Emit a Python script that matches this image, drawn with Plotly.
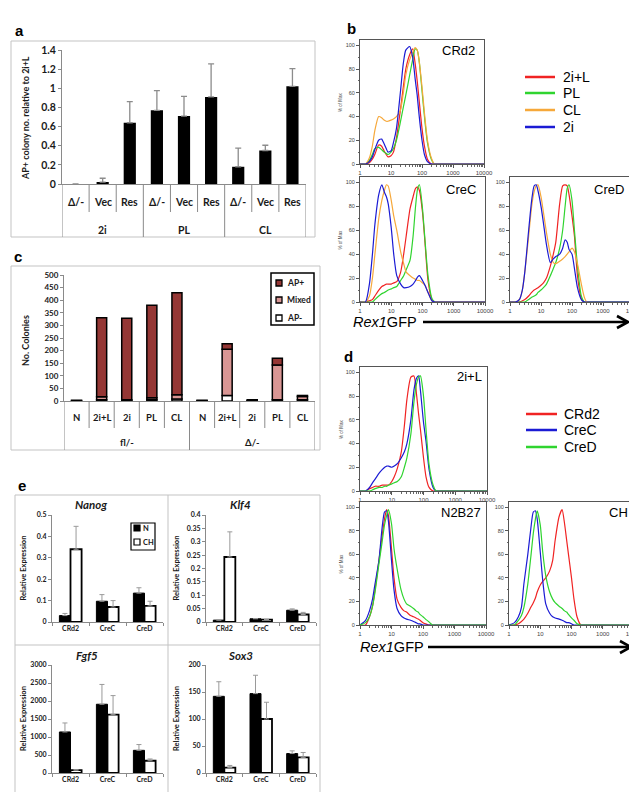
import plotly.graph_objects as go

W, H = 637, 792

# ---------------- panel a data ----------------
A_GROUPS = ["2i", "PL", "CL"]
A_INNER = ["Δ/-", "Vec", "Res"]
A_VALUES = [0.0, 0.02, 0.64, 0.77, 0.71, 0.91, 0.18, 0.35, 1.02]
A_ERR_UP = [None, 0.04, 0.22, 0.205, 0.205, 0.345, 0.195, 0.055, 0.185]
A_YTITLE = "AP+ colony no. relative to 2i+L"

# ---------------- panel c data ----------------
C_GROUPS = ["fl/-", "Δ/-"]
C_INNER = ["N", "2i+L", "2i", "PL", "CL"]
C_AP_NEG = [1, 5, 2, 5, 8, 1, 22, 1, 5, 5]
C_MIXED = [0, 12, 3, 8, 17, 0, 183, 1, 138, 13]
C_AP_POS = [2, 313, 323, 367, 405, 2, 22, 3, 27, 4]
C_SERIES = ["AP+", "Mixed", "AP-"]
C_YTITLE = "No. Colonies"

# ---------------- panel e data ----------------
E_LINES = ["CRd2", "CreC", "CreD"]
E_SERIES = ["N", "CH"]
NANOG_N = [0.03, 0.097, 0.135]
NANOG_N_ERR = [0.01, 0.031, 0.025]
NANOG_CH = [0.34, 0.07, 0.075]
NANOG_CH_ERR = [0.107, 0.03, 0.022]
KLF4_N = [0.007, 0.012, 0.044]
KLF4_N_ERR = [0.001, 0.001, 0.005]
KLF4_CH = [0.243, 0.009, 0.028]
KLF4_CH_ERR = [0.094, 0.001, 0.008]
FGF5_N = [1140, 1910, 630]
FGF5_N_ERR = [250, 550, 160]
FGF5_CH = [80, 1620, 340]
FGF5_CH_ERR = [10, 530, 50]
SOX3_N = [142, 147, 36]
SOX3_N_ERR = [27, 34, 5]
SOX3_CH = [10, 100, 29]
SOX3_CH_ERR = [4, 31, 9]

# ---------------- flow histograms (x = Rex1GFP, y = % of Max) ----------------
HX = [1, 1.5, 2, 2.5, 3, 4, 5, 6, 7, 8, 10, 12, 15, 20, 25, 30, 40, 50, 60, 70, 80,
      100, 120, 150, 200, 250, 300, 10000]
HIST_XTICKS = [1, 10, 100, 1000, 10000]
HIST_XLABELS = ["1", "10", "100", "1000", "10000"]
HIST_YTICKS = [0, 20, 40, 60, 80, 100]
B_NAMES = ["2i+L", "PL", "CL", "2i"]
B_CRD2_2IL = [0, 0, 1, 4, 8, 16, 15, 11, 8, 6, 7, 10, 22, 45, 65, 80, 92, 97, 85, 70, 55, 30, 15, 4, 0, 0, 0, 0]
B_CRD2_PL = [0, 0, 3, 8, 13, 14, 12, 10, 9, 8, 10, 13, 20, 35, 48, 58, 75, 88, 97, 96, 88, 62, 40, 18, 4, 0, 0, 0]
B_CRD2_CL = [0, 0, 5, 15, 28, 40, 39, 37, 36, 36, 37, 38, 40, 45, 60, 75, 88, 94, 98, 96, 88, 65, 43, 20, 5, 0, 0, 0]
B_CRD2_2I = [0, 0, 2, 6, 12, 20, 21, 17, 13, 10, 11, 18, 30, 60, 85, 96, 99, 90, 72, 58, 42, 20, 8, 2, 0, 0, 0, 0]
B_CREC_2IL = [0, 0, 1, 2, 5, 10, 13, 14, 15, 15, 15, 16, 17, 25, 40, 55, 78, 88, 95, 96, 93, 75, 50, 18, 2, 0, 0, 0]
B_CREC_PL = [0, 0, 0, 0, 2, 5, 7, 8, 9, 10, 11, 12, 13, 18, 22, 27, 35, 55, 80, 95, 98, 78, 52, 22, 3, 0, 0, 0]
B_CREC_CL = [0, 0, 5, 20, 40, 70, 85, 93, 98, 97, 85, 72, 60, 42, 32, 25, 22, 20, 19, 18, 18, 16, 14, 8, 1, 0, 0, 0]
B_CREC_2I = [0, 0, 15, 40, 65, 90, 98, 92, 88, 82, 62, 40, 22, 15, 12, 12, 13, 15, 18, 21, 22, 18, 14, 8, 1, 0, 0, 0]
B_CRED_2IL = [0, 0, 0, 1, 2, 5, 8, 10, 11, 12, 14, 16, 20, 30, 40, 50, 82, 97, 98, 97, 90, 72, 55, 22, 3, 0, 0, 0]
B_CRED_PL = [0, 0, 0, 0, 0, 2, 4, 5, 6, 8, 10, 12, 15, 22, 28, 33, 45, 60, 80, 95, 98, 85, 60, 30, 5, 0, 0, 0]
B_CRED_CL = [0, 0, 2, 10, 25, 55, 80, 92, 97, 98, 88, 75, 58, 40, 33, 32, 34, 36, 38, 40, 42, 45, 42, 32, 15, 4, 0, 0]
B_CRED_2I = [0, 0, 2, 10, 25, 60, 85, 97, 98, 93, 80, 66, 48, 33, 36, 38, 40, 45, 52, 50, 44, 40, 28, 12, 2, 0, 0, 0]

D_NAMES = ["CRd2", "CreC", "CreD"]
D_2IL_CRD2 = [0, 0, 2, 3, 4, 4, 5, 5, 5, 5, 8, 12, 19, 33, 55, 77, 96, 97, 82, 65, 52, 28, 12, 3, 0, 0, 0, 0]
D_2IL_CREC = [0, 0, 3, 7, 10, 15, 18, 20, 21, 21, 20, 21, 23, 28, 33, 40, 60, 85, 95, 97, 85, 58, 42, 18, 3, 0, 0, 0]
D_2IL_CRED = [0, 0, 0, 1, 2, 3, 3, 4, 4, 5, 6, 7, 8, 12, 20, 28, 48, 75, 90, 96, 97, 80, 52, 22, 5, 0, 0, 0]
D_N2B27_CRD2 = [0, 0, 7, 16, 30, 55, 75, 90, 98, 93, 65, 40, 22, 15, 12, 11, 8, 7, 6, 5, 4, 2, 1, 0, 0, 0, 0, 0]
D_N2B27_CREC = [0, 4, 12, 22, 35, 55, 82, 96, 97, 88, 55, 30, 14, 8, 6, 5, 4, 3, 2, 1, 1, 0, 0, 0, 0, 0, 0, 0]
D_N2B27_CRED = [0, 2, 7, 16, 28, 52, 70, 85, 93, 98, 86, 65, 48, 30, 22, 18, 16, 14, 12, 11, 9, 7, 5, 3, 0, 0, 0, 0]
D_CH_CRD2 = [0, 0, 1, 3, 5, 10, 15, 19, 23, 28, 34, 37, 40, 46, 55, 72, 92, 98, 86, 72, 60, 40, 22, 7, 0, 0, 0, 0]
D_CH_CREC = [0, 2, 7, 15, 35, 60, 82, 96, 97, 90, 62, 38, 18, 10, 7, 6, 5, 4, 3, 2, 2, 1, 0, 0, 0, 0, 0, 0]
D_CH_CRED = [0, 0, 4, 8, 15, 35, 58, 78, 90, 97, 85, 62, 42, 28, 22, 19, 16, 14, 12, 11, 9, 6, 4, 1, 0, 0, 0, 0]

# ---------------- styles ----------------
EX = "Lato"
FL = "Liberation Sans"
AX = "#8a8a8a"
FRAME = "#c3c3c3"
TXT = "#1a1a1a"
RED, GREEN, ORANGE, BLUE = "#f02323", "#2fd42f", "#f6a83a", "#1b1bd4"
AP_POS_C, MIXED_C, AP_NEG_C = "#953735", "#d99694", "#ffffff"
B_COLORS = [RED, GREEN, ORANGE, BLUE]
D_COLORS = [RED, BLUE, GREEN]


def xdom(l, r):
    return [l / W, r / W]


def ydom(t, b):
    return [1 - b / H, 1 - t / H]


fig = go.Figure()
axes = {}
shapes = []
annotations = []


def axis_pair(n, xd, yd, xo, yo):
    xk = "xaxis" if n == 1 else "xaxis%d" % n
    yk = "yaxis" if n == 1 else "yaxis%d" % n
    xr = "x" if n == 1 else "x%d" % n
    yr = "y" if n == 1 else "y%d" % n
    axes[xk] = dict(domain=xd, anchor=yr, **xo)
    axes[yk] = dict(domain=yd, anchor=xr, **yo)
    return xr, yr


def ann(x, y, text, size, family=EX, color=TXT, xanchor="center", yanchor="middle",
        angle=0, xref="paper"):
    annotations.append(dict(
        x=x if xref != "paper" else x / W, y=1 - y / H, xref=xref, yref="paper",
        text=text, showarrow=False, textangle=angle, xanchor=xanchor, yanchor=yanchor,
        font=dict(size=size, family=family, color=color)))


def pline(x0, y0, x1, y1, color=FRAME, width=1, xref="paper"):
    shapes.append(dict(
        type="line", xref=xref, yref="paper",
        x0=x0 if xref != "paper" else x0 / W, x1=x1 if xref != "paper" else x1 / W,
        y0=1 - y0 / H, y1=1 - y1 / H, line=dict(color=color, width=width)))


def prect(x0, y0, x1, y1, line_color=FRAME, width=1, fill="rgba(0,0,0,0)"):
    shapes.append(dict(
        type="rect", xref="paper", yref="paper", x0=x0 / W, x1=x1 / W,
        y0=1 - y1 / H, y1=1 - y0 / H, line=dict(color=line_color, width=width),
        fillcolor=fill))


def ppath(points, color="black", width=2.5):
    d = " ".join(("M" if i == 0 else "L") + " %.5f %.5f" % (x / W, 1 - y / H)
                 for i, (x, y) in enumerate(points))
    shapes.append(dict(type="path", xref="paper", yref="paper", path=d,
                       line=dict(color=color, width=width)))


def excel_y(rng, dtick, size):
    return dict(range=rng, dtick=dtick, tick0=0, showline=True, linecolor=AX, linewidth=1,
                ticks="outside", ticklen=3, tickcolor=AX, showgrid=False, zeroline=False,
                exponentformat="none", separatethousands=False,
                tickfont=dict(size=size, family=EX, color=TXT, weight="bold"))


def cat_x(keys, show_labels=False, size=7):
    d = dict(type="category", categoryorder="array", categoryarray=keys,
             range=[-0.5, len(keys) - 0.5], showline=True, linecolor=AX, linewidth=1,
             showgrid=False, zeroline=False, showticklabels=show_labels)
    if show_labels:
        d.update(ticks="outside", tickson="boundaries", ticklen=3, tickcolor=AX,
                 tickfont=dict(size=size, family=EX, color=TXT, weight="bold"))
    else:
        d.update(ticks="")
    return d


def cat_table(xref, keys, groups, inner, y_in, y_out, y_axis, y_short, y_long, size):
    n_in = len(inner)
    for k in range(len(keys)):
        ann(k, y_in, "<b>%s</b>" % inner[k % n_in], size, xref=xref)
    for g, name in enumerate(groups):
        ann(g * n_in + (n_in - 1) / 2, y_out, "<b>%s</b>" % name, size, xref=xref)
    for b in range(len(keys) + 1):
        pline(b - 0.5, y_axis, b - 0.5, y_long if b % n_in == 0 else y_short,
              color=AX, width=1, xref=xref)


# ================= panel a =================
prect(3, 33, 307, 229)
A_KEYS = ["%s|%s" % (g, i) for g in A_GROUPS for i in A_INNER]
xr, yr = axis_pair(1, xdom(54, 298), ydom(42, 176), cat_x(A_KEYS), excel_y([0, 1.4], 0.2, 10.5))
fig.add_trace(go.Bar(
    x=A_KEYS, y=A_VALUES, width=0.45, offset=-0.225, xaxis=xr, yaxis=yr,
    marker=dict(color="black", line=dict(width=0)),
    error_y=dict(type="data", array=A_ERR_UP, arrayminus=[0] * len(A_ERR_UP), symmetric=False,
                 color="#8c8c8c", thickness=1.3, width=3)))
cat_table(xr, A_KEYS, A_GROUPS, A_INNER, 194, 222, 176, 204, 229, 10.5)
ann(18, 110, "<b>%s</b>" % A_YTITLE, 9, angle=-90)

# ================= panel c =================
prect(3, 258, 312, 442)
C_KEYS = ["%s|%s" % (g, i) for g in C_GROUPS for i in C_INNER]
xr, yr = axis_pair(2, xdom(56, 307), ydom(267, 393), cat_x(C_KEYS), excel_y([0, 500], 50, 8))
base_mixed = C_AP_NEG
base_pos = [a + m for a, m in zip(C_AP_NEG, C_MIXED)]
for vals, base, col, name in [(C_AP_NEG, None, AP_NEG_C, C_SERIES[2]),
                              (C_MIXED, base_mixed, MIXED_C, C_SERIES[1]),
                              (C_AP_POS, base_pos, AP_POS_C, C_SERIES[0])]:
    fig.add_trace(go.Bar(
        x=C_KEYS, y=vals, base=base, width=0.4, offset=-0.2, name=name, xaxis=xr, yaxis=yr,
        marker=dict(color=col, line=dict(color="black", width=1.5))))
cat_table(xr, C_KEYS, C_GROUPS, C_INNER, 409, 434, 393, 420, 442, 9.5)
ann(18, 333, "<b>%s</b>" % C_YTITLE, 9, angle=-90)
# legend box for c
prect(263, 265, 306, 317, line_color="black", width=1.5)
for (yy, col, name) in [(275, AP_POS_C, C_SERIES[0]), (292, MIXED_C, C_SERIES[1]),
                        (310, AP_NEG_C, C_SERIES[2])]:
    prect(268, yy - 3, 274, yy + 3, line_color="black", width=1.3, fill=col)
    ann(277, yy, "<b>%s</b>" % name, 8.5, xanchor="left")

# ================= panel e =================
prect(7, 487, 312, 789)
pline(160, 487, 160, 789)
pline(7, 637, 312, 637)
E_PANELS = [
    (3, (44, 155), (507, 614), [0, 0.5], 0.1, "Nanog", NANOG_N, NANOG_N_ERR, NANOG_CH, NANOG_CH_ERR, 83, 497, 15),
    (4, (198, 308), (507, 614), [0, 0.4], 0.05, "Klf4", KLF4_N, KLF4_N_ERR, KLF4_CH, KLF4_CH_ERR, 232, 497, 168),
    (5, (44, 155), (657, 765), [0, 3000], 500, "Fgf5", FGF5_N, FGF5_N_ERR, FGF5_CH, FGF5_CH_ERR, 79, 647, 15),
    (6, (198, 308), (657, 765), [0, 200], 50, "Sox3", SOX3_N, SOX3_N_ERR, SOX3_CH, SOX3_CH_ERR, 232, 647, 168),
]
for (n, (l, r), (t, b), rng, dt, title, vn, en, vc, ec, tx, ty, ytx) in E_PANELS:
    xr, yr = axis_pair(n, xdom(l, r), ydom(t, b), cat_x(E_LINES, True, 7), excel_y(rng, dt, 7))
    fig.add_trace(go.Bar(
        x=E_LINES, y=vn, width=0.3, offset=-0.3, name=E_SERIES[0], xaxis=xr, yaxis=yr,
        marker=dict(color="black", line=dict(color="black", width=1)),
        error_y=dict(type="data", array=en, arrayminus=[0] * 3, symmetric=False,
                     color="#9a9a9a", thickness=1, width=2.5)))
    fig.add_trace(go.Bar(
        x=E_LINES, y=vc, width=0.3, offset=0.0, name=E_SERIES[1], xaxis=xr, yaxis=yr,
        marker=dict(color="white", line=dict(color="black", width=1.8)),
        error_y=dict(type="data", array=ec, arrayminus=[0] * 3, symmetric=False,
                     color="#9a9a9a", thickness=1, width=2.5)))
    ann(tx, ty, "<b><i>%s</i></b>" % title, 11.5)
    ann(ytx, (t + b) / 2, "<b>Relative Expression</b>", 7.5, angle=-90)
# legend box for e
prect(123, 515, 147, 542, line_color="black", width=1.2)
for (yy, col, name) in [(520, "black", E_SERIES[0]), (534, "white", E_SERIES[1])]:
    prect(126, yy - 3, 132, yy + 3, line_color="black", width=1.2, fill=col)
    ann(133, yy, "<b>%s</b>" % name, 7.5, xanchor="left")

# ================= flow histograms (b and d) =================


def hist_x():
    return dict(type="log", range=[0, 4], tickmode="array", tickvals=HIST_XTICKS,
                ticktext=HIST_XLABELS, showline=True,
                mirror=True, linecolor="#555", linewidth=1, ticks="outside", ticklen=3,
                tickcolor="#555", showgrid=False, zeroline=False,
                tickfont=dict(size=6, family=FL, color="#444"),
                minor=dict(ticks="outside", ticklen=2, tickcolor="#666", dtick="D1", showgrid=False))


def hist_y():
    return dict(range=[0, 104.5], tickmode="array", tickvals=HIST_YTICKS, showline=True,
                mirror=True, linecolor="#555", linewidth=1, ticks="outside", ticklen=3,
                tickcolor="#555", showgrid=False, zeroline=False,
                tickfont=dict(size=5.5, family=FL, color="#444"),
                minor=dict(ticks="outside", ticklen=1.5, tickcolor="#666", dtick=10, showgrid=False))


HIST_PANELS = [
    (7, (352, 476), (32, 156), "CRd2", (469, 43), [B_CRD2_2IL, B_CRD2_PL, B_CRD2_CL, B_CRD2_2I], B_NAMES, B_COLORS, 332),
    (8, (352, 477), (169, 294), "CreC", (470, 182), [B_CREC_2IL, B_CREC_PL, B_CREC_CL, B_CREC_2I], B_NAMES, B_COLORS, 332),
    (9, (502, 626), (169, 294), "CreD", (618, 182), [B_CRED_2IL, B_CRED_PL, B_CRED_CL, B_CRED_2I], B_NAMES, B_COLORS, None),
    (10, (352, 479), (359, 483), "2i+L", (476, 369), [D_2IL_CRD2, D_2IL_CREC, D_2IL_CRED], D_NAMES, D_COLORS, 333),
    (11, (352, 478), (494, 617), "N2B27", (475, 504), [D_N2B27_CRD2, D_N2B27_CREC, D_N2B27_CRED], D_NAMES, D_COLORS, 333),
    (12, (501, 626), (494, 617), "CH", (622, 504), [D_CH_CRD2, D_CH_CREC, D_CH_CRED], D_NAMES, D_COLORS, None),
]
for (n, (l, r), (t, b), label, (lx, ly), curves, names, cols, ytx) in HIST_PANELS:
    xr, yr = axis_pair(n, xdom(l, r), ydom(t, b), hist_x(), hist_y())
    for yv, nm, col in zip(curves, names, cols):
        fig.add_trace(go.Scatter(
            x=HX, y=yv, mode="lines", name=nm, xaxis=xr, yaxis=yr,
            line=dict(color=col, width=1.2, shape="spline", smoothing=0.6)))
    ann(lx, ly, label, 13, family=FL, color="black", xanchor="right")
    if ytx is not None:
        ann(ytx, (t + b) / 2, "% of Max", 4.5, family=FL, color="#444", angle=-90)

# legends for b and d
for i, (nm, col) in enumerate(zip(B_NAMES, B_COLORS)):
    yy = [69, 85, 102, 119][i]
    pline(517, yy, 547, yy, color=col, width=2.5)
    ann(553, yy, nm, 14, family=FL, color="black", xanchor="left")
for i, (nm, col) in enumerate(zip(D_NAMES, D_COLORS)):
    yy = [406, 422, 439][i]
    pline(518, yy, 549, yy, color=col, width=2.5)
    ann(554, yy, nm, 14, family=FL, color="black", xanchor="left")

# Rex1GFP axis captions with arrows (shaft + open chevron head)
for (tx, ty, a0, a1) in [(343, 314, 415, 620), (350, 639, 420, 623)]:
    ann(tx, ty, "<i>Rex1</i>GFP", 14.5, family=FL, color="black", xanchor="left")
    pline(a0, ty, a1 - 1, ty, color="black", width=2.6)
    ppath([(a1 - 11, ty - 6), (a1, ty), (a1 - 11, ty + 6)], color="black", width=2.6)

# panel letters
for (lt, lx, ly) in [("a", 12, 22), ("b", 343, 20), ("c", 10, 248), ("d", 340, 348), ("e", 14, 477)]:
    ann(lx, ly, "<b>%s</b>" % lt, 15, family=FL, color="black")

fig.update_layout(
    width=W, height=H, margin=dict(l=0, r=0, t=0, b=0), template="none",
    paper_bgcolor="white", plot_bgcolor="rgba(0,0,0,0)", showlegend=False,
    barmode="overlay", font=dict(family=EX, color=TXT),
    shapes=shapes, annotations=annotations, **axes)

fig.write_html("out.html")
